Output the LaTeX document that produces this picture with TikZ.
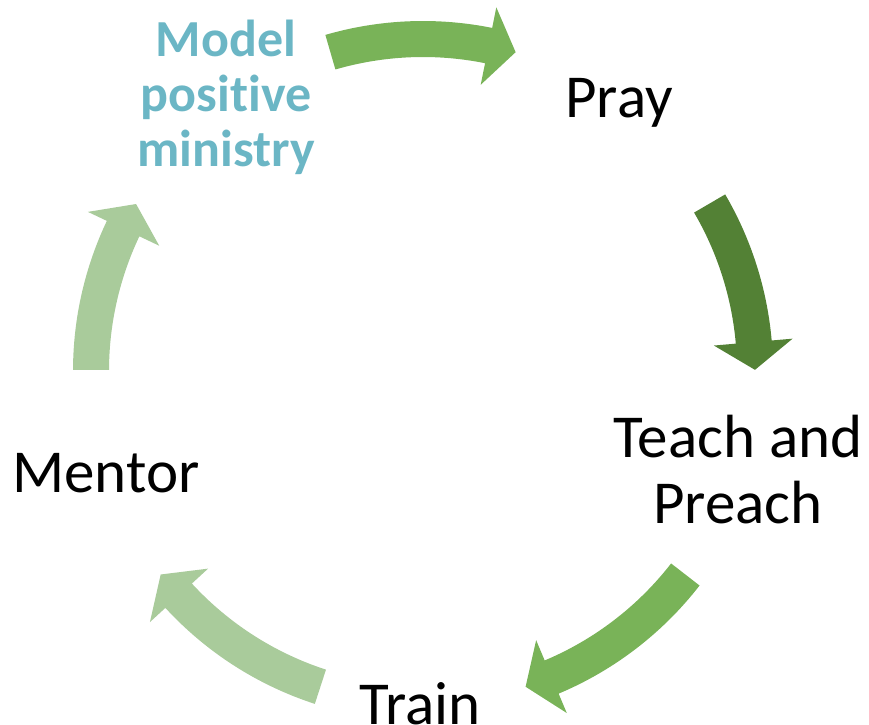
\documentclass[tikz,border=0pt]{standalone}
\usepackage{fontspec}
\setmainfont{Carlito}[Ligatures=NoCommon]
\usepackage{tikz}
\usetikzlibrary{positioning}
\definecolor{greenmid}{HTML}{79B358}
\definecolor{greendark}{HTML}{538135}
\definecolor{greenlight}{HTML}{A9CB9B}
\definecolor{stepteal}{HTML}{6BB6C5}
\tikzset{
	stage/.style={anchor=base, align=center, inner sep=0pt, font=\fontsize{61}{66}\selectfont},
	highlight/.style={stage, text=stepteal, font=\bfseries\fontsize{52}{55}\selectfont},
	bentarrow/.style={draw=none}
}

\begin{document}
\begin{tikzpicture}[x=1pt, y=1pt]
		\useasboundingbox (0,0) rectangle (869,724);
		\coordinate (hub) at (423,353);
		
		\node[highlight] (model) at (226,557) {Model\\positive\\ministry};
		\node[stage] (pray) at (619,606) {Pray};
		\node[stage] (teach) at (738,201) {Teach and\\Preach};
		\node[stage] (train) at (420,0) {Train};
		\node[stage] (mentor) at (106,232) {Mentor};
		
		% model -> pray
		\fill[bentarrow, greenmid] ([shift={(106.2:350pt)}]hub) arc[start angle=106.2, end angle=78.6, radius=350pt]
			-- ([shift={(78.6:371pt)}]hub) -- ([shift={(73.8:332pt)}]hub) -- ([shift={(78.6:292pt)}]hub)
			-- ([shift={(78.6:314pt)}]hub) arc[start angle=78.6, end angle=106.2, radius=314pt] -- cycle;
		
		% pray -> teach
		\fill[bentarrow, greendark] ([shift={(30.3:350pt)}]hub) arc[start angle=30.3, end angle=5.0, radius=350pt]
			-- ([shift={(5.0:371pt)}]hub) -- ([shift={(0.2:332pt)}]hub) -- ([shift={(5.0:292pt)}]hub)
			-- ([shift={(5.0:314pt)}]hub) arc[start angle=5.0, end angle=30.3, radius=314pt] -- cycle;
		
		% teach -> train
		\fill[bentarrow, greenmid] ([shift={(-37.8:350pt)}]hub) arc[start angle=-37.8, end angle=-67.2, radius=350pt]
			-- ([shift={(-67.2:371pt)}]hub) -- ([shift={(-72:332pt)}]hub) -- ([shift={(-67.2:292pt)}]hub)
			-- ([shift={(-67.2:314pt)}]hub) arc[start angle=-67.2, end angle=-37.8, radius=314pt] -- cycle;
		
		% train -> mentor
		\fill[bentarrow, greenlight] ([shift={(-108:350pt)}]hub) arc[start angle=-108, end angle=-137.4, radius=350pt]
			-- ([shift={(-137.4:371pt)}]hub) -- ([shift={(-142.2:332pt)}]hub) -- ([shift={(-137.4:292pt)}]hub)
			-- ([shift={(-137.4:314pt)}]hub) arc[start angle=-137.4, end angle=-108, radius=314pt] -- cycle;
		
		% mentor -> model
		\fill[bentarrow, greenlight] ([shift={(179.8:350pt)}]hub) arc[start angle=179.8, end angle=154.6, radius=350pt]
			-- ([shift={(154.6:371pt)}]hub) -- ([shift={(149.8:332pt)}]hub) -- ([shift={(154.6:292pt)}]hub)
			-- ([shift={(154.6:314pt)}]hub) arc[start angle=154.6, end angle=179.8, radius=314pt] -- cycle;
	\end{tikzpicture}
\end{document}
